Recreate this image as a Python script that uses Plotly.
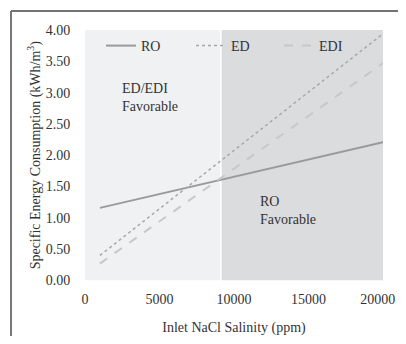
import plotly.graph_objects as go

salinity = [1000, 20000]
ro = [1.16, 2.21]
ed = [0.40, 3.94]
edi = [0.27, 3.47]
series_names = ["RO", "ED", "EDI"]
x_ticks = [0, 5000, 10000, 15000, 20000]
x_tick_labels = ["0", "5000", "10000", "15000", "20000\u00a0\u00a0\u00a0"]
y_ticks = [0, 0.5, 1.0, 1.5, 2.0, 2.5, 3.0, 3.5, 4.0]
ed_region = [0, 9060]
ro_region = [9170, 20000]

FONT = "Liberation Serif"
TXT = "#333333"
W, H = 398, 328

def px(p):
    return p / W

def py(p):
    return 1 - p / H

fig = go.Figure()
fig.add_trace(go.Scatter(x=salinity, y=ro, mode="lines", name=series_names[0],
                         line=dict(color="#9a9a9a", width=2), legend="legend"))
fig.add_trace(go.Scatter(x=salinity, y=ed, mode="lines", name=series_names[1],
                         line=dict(color="#a8a8a8", width=1.5, dash="dot"), legend="legend2"))
fig.add_trace(go.Scatter(x=salinity, y=edi, mode="lines", name=series_names[2],
                         line=dict(color="#c8c8c8", width=2, dash="dash"), legend="legend3"))

# shaded regions
fig.add_shape(type="rect", xref="x", yref="y", x0=ed_region[0], x1=ed_region[1],
              y0=0, y1=4, fillcolor="#f0f1f3", line=dict(width=0), layer="below")
fig.add_shape(type="rect", xref="x", yref="y", x0=ro_region[0], x1=ro_region[1],
              y0=0, y1=4, fillcolor="#dbdcde", line=dict(width=0), layer="below")

# outer border (top and left visible)
fig.add_shape(type="line", xref="paper", yref="paper", x0=px(3), x1=1, y0=py(3), y1=py(3),
              line=dict(color="#444444", width=1.5))
fig.add_shape(type="line", xref="paper", yref="paper", x0=px(3), x1=px(3), y0=py(3), y1=0,
              line=dict(color="#777777", width=2))

fig.add_annotation(x=2350, y=2.93, xref="x", yref="y",
                   text="ED/EDI<br>Favorable", showarrow=False, xanchor="left", yanchor="middle",
                   align="left", font=dict(family=FONT, size=14, color=TXT))
fig.add_annotation(x=11610, y=1.11, xref="x", yref="y",
                   text="RO<br>Favorable", showarrow=False, xanchor="left", yanchor="middle",
                   align="left", font=dict(family=FONT, size=14, color=TXT))

leg = dict(orientation="h", yanchor="middle", xanchor="left", bgcolor="rgba(0,0,0,0)",
           font=dict(family=FONT, size=14, color=TXT))
ly = py(38)
fig.update_layout(
    width=W, height=H,
    margin=dict(l=0, r=0, t=0, b=0, autoexpand=False),
    plot_bgcolor="white", paper_bgcolor="white",
    font=dict(family=FONT, size=14, color=TXT),
    showlegend=True,
    legend=dict(leg, x=px(93), y=ly),
    legend2=dict(leg, x=px(183), y=ly),
    legend3=dict(leg, x=px(271), y=ly),
    xaxis=dict(domain=[px(77), px(375)], range=[0, 20000], tickvals=x_ticks,
               ticktext=x_tick_labels, ticklabeloverflow="allow",
               showgrid=False, zeroline=False, showline=False, automargin=False,
               ticks="outside", ticklen=6, tickcolor="rgba(0,0,0,0)",
               title=dict(text="Inlet NaCl Salinity (ppm)", standoff=16,
                          font=dict(family=FONT, size=14, color=TXT))),
    yaxis=dict(domain=[py(272.5), py(22)], range=[0, 4], tickvals=y_ticks, tickformat=".2f",
               showgrid=False, zeroline=False, showline=False, automargin=False,
               ticks="outside", ticklen=11, tickcolor="rgba(0,0,0,0)",
               title=dict(text="Specific Energy Consumption (kWh/m<sup>3</sup>)", standoff=1,
                          font=dict(family=FONT, size=14, color=TXT))),
)

fig.write_html("out.html")
